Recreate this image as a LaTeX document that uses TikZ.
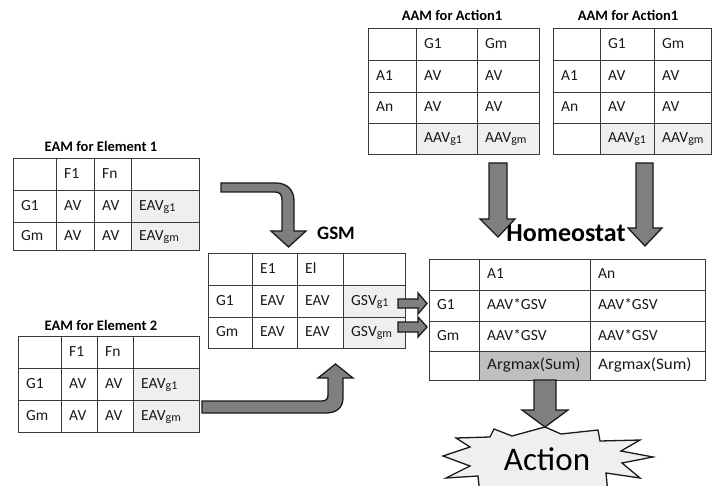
\documentclass[tikz,border=0pt]{standalone}
\usepackage{fontspec}
\setmainfont{Carlito}
\definecolor{linec}{HTML}{3A3A3A}
\definecolor{lightc}{HTML}{EFEFEF}
\definecolor{midc}{HTML}{BFBFBF}
\definecolor{arrowc}{HTML}{7F7F7F}
\definecolor{arrowline}{HTML}{1A1A1A}
\newcommand{\lsub}[1]{\raisebox{-1.3pt}{\fontsize{12}{13}\selectfont #1}}
\newcommand{\argtxt}{\scalebox{1.1}[1.03]{Argmax(Sum)}}
\newcommand{\tcell}[7][]{%
  \node[cellbox,#1,minimum width={(#5-#3)*1pt},minimum height={(#6-#4)*1pt}] (#2) at (#3,#4) {};
  \node[celltext] (#2t) at ([xshift=8pt]#2.west) {#7};}
\begin{document}
\begin{tikzpicture}[x=1pt,y=-1pt,
  cellbox/.style={draw=linec,line width=1.2pt,anchor=north west,inner sep=0pt},
  grayc/.style={fill=lightc},
  darkc/.style={fill=midc},
  celltext/.style={anchor=west,inner sep=0pt,font=\fontsize{15.5}{17}\selectfont,text=black!90,text height=10pt,text depth=3pt},
  title/.style={font=\fontsize{14.5}{16}\selectfont\bfseries},
  bigtitle/.style={font=\fontsize{19}{22}\selectfont\bfseries},
  blockarrow/.style={fill=arrowc,draw=arrowline,line width=1.3pt,line join=miter}]
\useasboundingbox (0,0) rectangle (712,486);

% ---------- EAM for Element 1
\node[title] (t1) at (101,146) {EAM for Element 1};
\tcell{e1a}{13}{158}{56}{190}{}
\tcell{e1b}{56}{158}{94}{190}{F1}
\tcell{e1c}{94}{158}{131}{190}{Fn}
\tcell{e1d}{131}{158}{199}{190}{}
\tcell{e1e}{13}{190}{56}{222}{G1}
\tcell{e1f}{56}{190}{94}{222}{AV}
\tcell{e1g}{94}{190}{131}{222}{AV}
\tcell[grayc]{e1h}{131}{190}{199}{222}{EAV\lsub{g1}}
\tcell{e1i}{13}{222}{56}{250}{Gm}
\tcell{e1j}{56}{222}{94}{250}{AV}
\tcell{e1k}{94}{222}{131}{250}{AV}
\tcell[grayc]{e1l}{131}{222}{199}{250}{EAV\lsub{gm}}

% ---------- EAM for Element 2
\node[title] (t2) at (101,325) {EAM for Element 2};
\tcell{e2a}{18}{336}{61}{368}{}
\tcell{e2b}{61}{336}{97}{368}{F1}
\tcell{e2c}{97}{336}{133}{368}{Fn}
\tcell{e2d}{133}{336}{199}{368}{}
\tcell{e2e}{18}{368}{61}{400}{G1}
\tcell{e2f}{61}{368}{97}{400}{AV}
\tcell{e2g}{97}{368}{133}{400}{AV}
\tcell[grayc]{e2h}{133}{368}{199}{400}{EAV\lsub{g1}}
\tcell{e2i}{18}{400}{61}{432}{Gm}
\tcell{e2j}{61}{400}{97}{432}{AV}
\tcell{e2k}{97}{400}{133}{432}{AV}
\tcell[grayc]{e2l}{133}{400}{199}{432}{EAV\lsub{gm}}

% ---------- GSM
\node[bigtitle] (tg) at (336,233) {GSM};
\tcell{ga}{208}{253}{252}{285}{}
\tcell{gb}{252}{253}{297}{285}{E1}
\tcell{gc}{297}{253}{343}{285}{El}
\tcell{gd}{343}{253}{405}{285}{}
\tcell{ge}{208}{285}{252}{317}{G1}
\tcell{gf}{252}{285}{297}{317}{EAV}
\tcell{gg}{297}{285}{343}{317}{EAV}
\tcell[grayc]{gh}{343}{285}{405}{317}{GSV\lsub{g1}}
\tcell{gi}{208}{317}{252}{348}{Gm}
\tcell{gj}{252}{317}{297}{348}{EAV}
\tcell{gk}{297}{317}{343}{348}{EAV}
\tcell[grayc]{gl}{343}{317}{405}{348}{GSV\lsub{gm}}

% ---------- AAM 1
\node[title] (ta1) at (452,15) {AAM for Action1};
\tcell{a1a}{368}{28}{416}{60}{}
\tcell{a1b}{416}{28}{477}{60}{G1}
\tcell{a1c}{477}{28}{539}{60}{Gm}
\tcell{a1d}{368}{60}{416}{92}{A1}
\tcell{a1e}{416}{60}{477}{92}{AV}
\tcell{a1f}{477}{60}{539}{92}{AV}
\tcell{a1g}{368}{92}{416}{123}{An}
\tcell{a1h}{416}{92}{477}{123}{AV}
\tcell{a1i}{477}{92}{539}{123}{AV}
\tcell{a1j}{368}{123}{416}{154}{}
\tcell[grayc]{a1k}{416}{123}{477}{154}{AAV\lsub{g1}}
\tcell[grayc]{a1l}{477}{123}{539}{154}{AAV\lsub{gm}}

% ---------- AAM 2
\node[title] (ta2) at (628,15) {AAM for Action1};
\tcell{a2a}{553}{28}{600}{60}{}
\tcell{a2b}{600}{28}{654}{60}{G1}
\tcell{a2c}{654}{28}{711}{60}{Gm}
\tcell{a2d}{553}{60}{600}{92}{A1}
\tcell{a2e}{600}{60}{654}{92}{AV}
\tcell{a2f}{654}{60}{711}{92}{AV}
\tcell{a2g}{553}{92}{600}{123}{An}
\tcell{a2h}{600}{92}{654}{123}{AV}
\tcell{a2i}{654}{92}{711}{123}{AV}
\tcell{a2j}{553}{123}{600}{154}{}
\tcell[grayc]{a2k}{600}{123}{654}{154}{AAV\lsub{g1}}
\tcell[grayc]{a2l}{654}{123}{711}{154}{AAV\lsub{gm}}

% ---------- Homeostat
\node[font=\fontsize{26}{29}\selectfont\bfseries] (th) at (566,233) {Homeostat};
\tcell{ha}{429}{259}{479}{290}{}
\tcell{hb}{479}{259}{590}{290}{A1}
\tcell{hc}{590}{259}{705}{290}{An}
\tcell{hd}{429}{290}{479}{321}{G1}
\tcell{he}{479}{290}{590}{321}{AAV*GSV}
\tcell{hf}{590}{290}{705}{321}{AAV*GSV}
\tcell{hg}{429}{321}{479}{351}{Gm}
\tcell{hh}{479}{321}{590}{351}{AAV*GSV}
\tcell{hi}{590}{321}{705}{351}{AAV*GSV}
\tcell{hj}{429}{351}{479}{380}{}
\tcell[darkc]{hk}{479}{351}{590}{380}{\argtxt}
\tcell{hl}{590}{351}{705}{380}{\argtxt}

% ---------- Action star
\path[fill=lightc,draw=arrowline,line width=1.3pt,line join=miter]
  (545,427) -- (561,434) -- (598,430) -- (600,441) -- (640,440) -- (621,451)
  -- (653,457) -- (622,463) -- (640,478) -- (606,473) -- (608,494) -- (580,490)
  -- (560,498) -- (530,494) -- (480,496) -- (478,476) -- (446,478) -- (470,466)
  -- (443,456) -- (470,447) -- (456,438) -- (490,437) -- (494,429) -- (512,436) -- cycle;
\node[font=\fontsize{33}{36}\selectfont] (act) at (547,459) {Action};

% ---------- block arrows
\path[blockarrow] (221,183) -- (276,183) .. controls (287,183) and (294,190) .. (294,201)
  -- (294,231) -- (306,231) -- (288.5,247) -- (271,231) -- (282,231) -- (282,200)
  .. controls (282,195) and (280,192) .. (275,192) -- (221,192) -- cycle;
\path[blockarrow] (202,401) -- (322,401) .. controls (326,401) and (328,399) .. (328,395)
  -- (328,378) -- (318,378) -- (335.5,364) -- (353,378) -- (343,378) -- (343,398)
  .. controls (343,408) and (336,413) .. (326,413) -- (202,413) -- cycle;
\path[blockarrow] (398,299) -- (418,299) -- (418,293) -- (427,303.5) -- (418,314) -- (418,308) -- (398,308) -- cycle;
\path[blockarrow] (398,322) -- (418,322) -- (418,317) -- (427,327) -- (418,337) -- (418,332) -- (398,332) -- cycle;
\path[blockarrow] (489,163) -- (507,163) -- (507,219) -- (515,219) -- (498,237) -- (480,219) -- (489,219) -- cycle;
\path[blockarrow] (636,163) -- (653,163) -- (653,228) -- (662,228) -- (645,246) -- (628,228) -- (636,228) -- cycle;
\path[blockarrow] (534,380) -- (556,380) -- (556,410) -- (568,410) -- (545,427) -- (522,410) -- (534,410) -- cycle;
\end{tikzpicture}
\end{document}
